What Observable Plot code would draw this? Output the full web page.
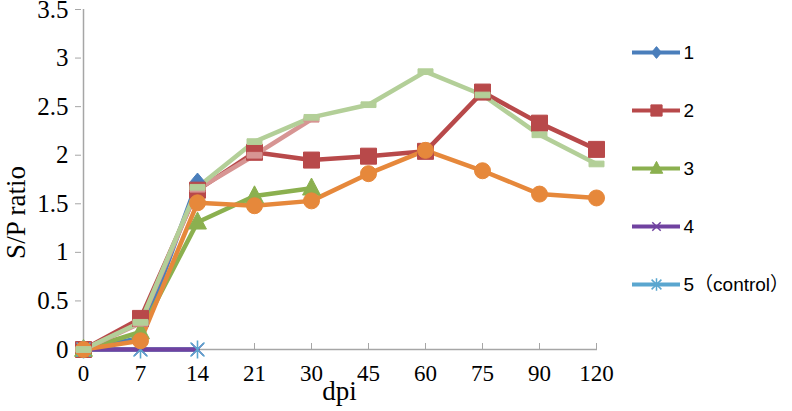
<!DOCTYPE html>
<html><head><meta charset="utf-8">
<script src="https://cdn.jsdelivr.net/npm/d3@7"></script>
<script src="https://cdn.jsdelivr.net/npm/@observablehq/plot@0.6"></script>
<style>
body{margin:0;background:#fff;}
#wrap{position:relative;width:792px;height:411px;overflow:hidden;}
#legend{position:absolute;left:620px;top:0;}
</style></head><body>
<div id="wrap"><div id="chart"></div><div id="legend"></div></div>
<script>
// Categories (days post infection)
const dpi = ["0", "7", "14", "21", "30", "45", "60", "75", "90", "120"];
// Series values (S/P ratio)
const s1 = [0, 0.12, 1.73];
const s2 = [0, 0.32, 1.64, 2.03, 1.95, 1.99, 2.04, 2.65, 2.33, 2.06];
const s3 = [0, 0.18, 1.31, 1.58, 1.66];
const s4 = [0, 0, 0];
const s5 = [0, 0, 0];
const s6 = [0, 0.09, 1.51, 1.48, 1.53, 1.81, 2.05, 1.84, 1.60, 1.56];
const s7 = [0, 0.27, 1.65, 2.00, 2.37];
const s8 = [0, 0.28, 1.67, 2.14, 2.39, 2.52, 2.86, 2.62, 2.21, 1.91];
const seriesNames = ["1", "2", "3", "4", "5", "6", "7", "8"];
const legendLabels = ["1", "2", "3", "4", "5（control）"];
const yTicks = [0, 0.5, 1, 1.5, 2, 2.5, 3, 3.5];
const yLabel = "S/P ratio";
const xLabel = "dpi";

const values = [s1, s2, s3, s4, s5, s6, s7, s8];
const colors = ["#4A7EBB", "#B8494A", "#8BB04F", "#7042A0", "#5AA6CF", "#E6883B", "#D79593", "#B3CF98"];
const axisGray = "#A6A6A6";

// custom symbols (size = pi r^2)
const R = s => Math.sqrt(s / Math.PI);
const sym = {
  diamond: {draw(c, s) { const r = R(s); c.moveTo(0, -r * 1.2); c.lineTo(r, 0); c.lineTo(0, r * 1.2); c.lineTo(-r, 0); c.closePath(); }},
  square: {draw(c, s) { const r = R(s); c.rect(-r, -r, 2 * r, 2 * r); }},
  triangle: {draw(c, s) { const r = R(s); c.moveTo(0, -r * 1.2); c.lineTo(r * 1.05, r * 0.8); c.lineTo(-r * 1.05, r * 0.8); c.closePath(); }},
  times: {draw(c, s) { const r = R(s); c.moveTo(-r, -r); c.lineTo(r, r); c.moveTo(r, -r); c.lineTo(-r, r); }},
  asterisk: {draw(c, s) { const r = R(s); c.moveTo(-r, -r); c.lineTo(r, r); c.moveTo(r, -r); c.lineTo(-r, r); c.moveTo(0, -r * 1.3); c.lineTo(0, r * 1.3); }},
  circle: {draw(c, s) { const r = R(s); c.moveTo(r, 0); c.arc(0, 0, r, 0, 2 * Math.PI); }},
  dash: {draw(c, s) { const r = R(s); c.rect(-r, -r * 0.38, 2 * r, r * 0.76); }}
};
const symbols = [sym.diamond, sym.square, sym.triangle, sym.times, sym.asterisk, sym.circle, sym.dash, sym.dash];
const sizes = [7, 8, 8.5, 6, 7, 8, 7.5, 7.5];
const strokeOnly = [false, false, false, true, true, false, false, false];

const rows = seriesNames.map((name, i) =>
  values[i].map((v, j) => ({series: name, dpi: dpi[j], value: v})).filter(d => d.value != null));

const seriesMarks = [];
// lines: control line under the purple one; markers: control asterisks on top
const lineOrder = [0, 1, 2, 4, 3, 5, 6, 7];
const dotOrder = [0, 1, 2, 3, 4, 5, 6, 7];
for (const i of lineOrder) {
  seriesMarks.push(Plot.line(rows[i], {x: "dpi", y: "value", stroke: colors[i], strokeWidth: 4.5, strokeLinejoin: "round"}));
}
for (const i of dotOrder) {
  seriesMarks.push(Plot.dot(rows[i], {
    x: "dpi", y: "value", symbol: symbols[i], r: sizes[i],
    fill: strokeOnly[i] ? "none" : colors[i],
    stroke: colors[i], strokeWidth: strokeOnly[i] ? 1.6 : 1
  }));
}

const chart = Plot.plot({
  width: 792, height: 411,
  marginLeft: 81, marginRight: 195, marginTop: 9, marginBottom: 62,
  style: {fontFamily: "'Liberation Serif', 'Times New Roman', serif", fontSize: "24px", color: "#000", background: "#fff"},
  x: {type: "point", domain: dpi, padding: 0},
  y: {domain: [0, 3.5]},
  marks: [
    Plot.axisY({ticks: yTicks, tickSize: 6, tickPadding: 7, tickFormat: d => String(d), label: null, stroke: axisGray, fill: "#000", fontSize: 25}),
    Plot.axisX({tickSize: -6, tickPadding: 21, label: null, stroke: axisGray, fill: "#000", fontSize: 23}),
    Plot.ruleY([0], {stroke: axisGray, strokeWidth: 1.5}),
    Plot.ruleX([dpi[0]], {stroke: axisGray, strokeWidth: 1.5}),
    Plot.text([yLabel], {frameAnchor: "left", text: d => d, rotate: -90, textAnchor: "middle", lineAnchor: "middle", dx: -65, dy: 33, fontSize: 27, fill: "#000"}),
    Plot.text([xLabel], {frameAnchor: "bottom", text: d => d, textAnchor: "middle", lineAnchor: "middle", dy: 42, fontSize: 27, fill: "#000"}),
    ...seriesMarks
  ]
});
document.getElementById("chart").append(chart);

// Legend (first five series)
const legendNames = seriesNames.slice(0, 5);
const legendMarks = [];
legendNames.forEach((name, i) => {
  legendMarks.push(Plot.ruleY([name], {x1: 0, x2: 1, stroke: colors[i], strokeWidth: 4}));
  legendMarks.push(Plot.dot([name], {
    x: 0.5, y: d => d, symbol: symbols[i], r: sizes[i] * 0.7,
    fill: strokeOnly[i] ? "none" : colors[i], stroke: colors[i], strokeWidth: strokeOnly[i] ? 1.5 : 1
  }));
});
legendMarks.push(Plot.text(legendNames, {x: 1, y: d => d, text: (d, i) => legendLabels[i], textAnchor: "start", dx: 3, fill: "#000"}));
const legend = Plot.plot({
  width: 172, height: 300,
  marginLeft: 12, marginRight: 112, marginTop: 51, marginBottom: 15,
  style: {fontFamily: "'Liberation Sans', 'Noto Sans CJK SC', sans-serif", fontSize: "19px", background: "transparent"},
  x: {domain: [0, 1], axis: null},
  y: {type: "point", domain: legendNames, axis: null, padding: 0},
  marks: legendMarks
});
document.getElementById("legend").append(legend);
</script>
</body></html>
